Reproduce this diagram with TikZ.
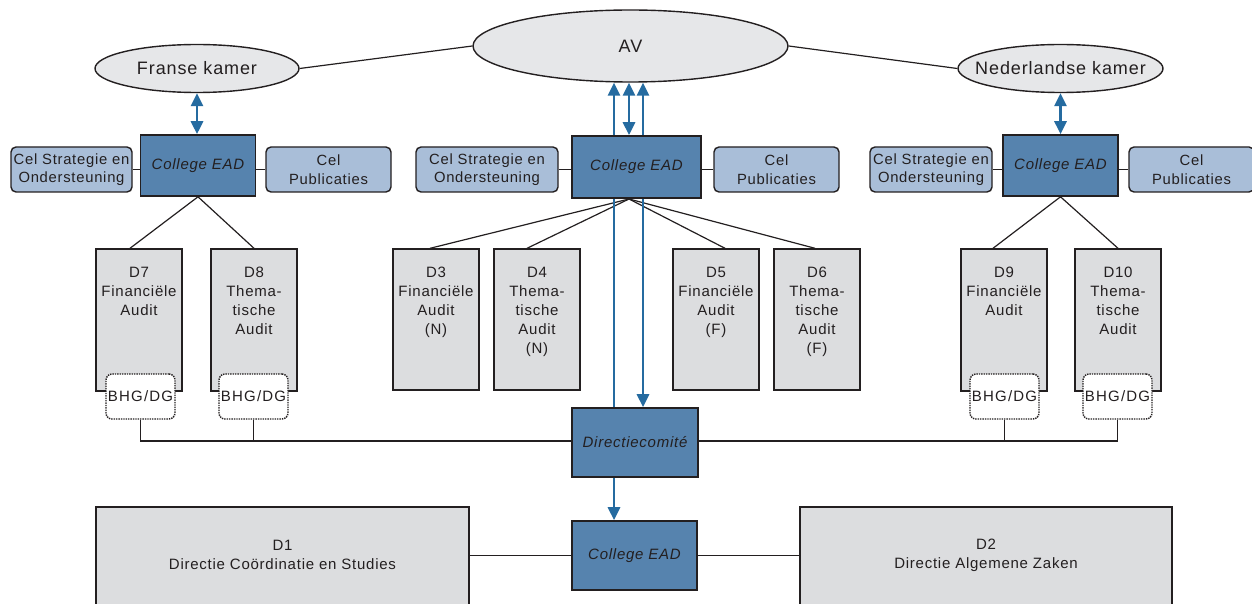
\documentclass[tikz,border=0pt]{standalone}
\usepackage{fontspec}
\setmainfont{Liberation Sans}[LetterSpace=5]
\usetikzlibrary{shapes.geometric,arrows.meta,calc}
\pgfdeclarelayer{bg}
\pgfsetlayers{bg,main}
\definecolor{darkb}{RGB}{86,131,174}
\definecolor{lightb}{RGB}{169,190,216}
\definecolor{greyc}{RGB}{220,221,223}
\definecolor{ellc}{RGB}{230,231,233}
\definecolor{arrowc}{RGB}{37,107,160}
\definecolor{linec}{RGB}{35,31,32}
\begin{document}
\begin{tikzpicture}[x=1pt,y=-1pt,
  ell/.style={ellipse, draw=linec, line width=1.4pt, fill=ellc, inner sep=0},
  elltext/.style={inner sep=0, text=linec, font=\fontsize{18}{21}\selectfont},
  coll/.style={rectangle, draw=linec, line width=1.6pt, fill=darkb, inner sep=0, text=linec, font=\fontsize{15}{17}\selectfont\itshape},
  cel/.style={rectangle, rounded corners=5pt, draw=linec, line width=1.4pt, fill=lightb, inner sep=0, align=center, text=linec, minimum height=45pt, font=\fontsize{14.8}{18.5}\selectfont},
  dbox/.style={rectangle, draw=linec, line width=1.4pt, fill=greyc, inner sep=0, minimum width=86pt},
  dtext/.style={anchor=north, align=center, inner sep=0, text=linec, font=\fontsize{15}{19}\selectfont},
  bhg/.style={rectangle, rounded corners=6pt, draw=linec, densely dotted, line width=1.4pt, fill=white, minimum width=69pt, minimum height=45pt, inner sep=0, text=linec, font=\fontsize{15}{17}\selectfont\addfontfeature{LetterSpace=8}},
  conn/.style={draw=linec, line width=1.2pt},
  barr/.style={draw=arrowc, line width=2.8pt, -{Triangle[width=12pt,length=13pt]}},
  barrd/.style={draw=arrowc, line width=2.8pt, {Triangle[width=12pt,length=13pt]}-{Triangle[width=12pt,length=13pt]}}
]
\useasboundingbox (0,0) rectangle (1252,604);

% ellipses
\node[ell, minimum width=315pt, minimum height=72pt] (AV) at (630.5,46) {};
\node[elltext] (AVt) at (AV.center) {AV};
\node[ell, minimum width=204pt, minimum height=48pt] (FR) at (197,68.5) {};
\node[elltext] (FRt) at (FR.center) {Franse kamer};
\node[ell, minimum width=205pt, minimum height=48pt] (NL) at (1060.5,68.5) {};
\node[elltext] (NLt) at (NL.center) {Nederlandse kamer};

% colleges
\node[coll, minimum width=115pt, minimum height=61pt] (CL) at (198,165.5) {College EAD};
\node[coll, minimum width=129pt, minimum height=62pt] (CM) at (636.5,167) {College EAD};
\node[coll, minimum width=115pt, minimum height=61pt] (CR) at (1060.5,165.5) {College EAD};

% cel boxes
\node[cel, minimum width=121pt] (SL) at (71.5,169.5) {Cel Strategie en\\Ondersteuning};
\node[cel, minimum width=125pt] (PL) at (328.5,169.5) {Cel\\Publicaties};
\node[cel, minimum width=142pt] (SM) at (487,169.5) {Cel Strategie en\\Ondersteuning};
\node[cel, minimum width=125pt] (PM) at (776.5,169.5) {Cel\\Publicaties};
\node[cel, minimum width=122pt] (SR) at (931,169.5) {Cel Strategie en\\Ondersteuning};
\node[cel, minimum width=125pt] (PR) at (1191.5,169.5) {Cel\\Publicaties};

% D boxes
\node[dbox, minimum height=142pt] (D7) at (139,320) {};
\node[dbox, minimum height=142pt] (D8) at (254,320) {};
\node[dbox, minimum height=142pt] (D9) at (1004,320) {};
\node[dbox, minimum height=142pt] (D10) at (1118,320) {};
\node[dbox, minimum height=141pt] (D3) at (436,319.5) {};
\node[dbox, minimum height=141pt] (D4) at (537,319.5) {};
\node[dbox, minimum height=141pt] (D5) at (716,319.5) {};
\node[dbox, minimum height=141pt] (D6) at (817,319.5) {};

\node[dtext] (T7) at (139,267) {D7\\Financiële\\Audit};
\node[dtext] (T8) at (254,267) {D8\\Thema-\\tische\\Audit};
\node[dtext] (T9) at (1004,267) {D9\\Financiële\\Audit};
\node[dtext] (T10) at (1118,267) {D10\\Thema-\\tische\\Audit};
\node[dtext] (T3) at (436,267) {D3\\Financiële\\Audit\\(N)};
\node[dtext] (T4) at (537,267) {D4\\Thema-\\tische\\Audit\\(N)};
\node[dtext] (T5) at (716,267) {D5\\Financiële\\Audit\\(F)};
\node[dtext] (T6) at (817,267) {D6\\Thema-\\tische\\Audit\\(F)};

% BHG/DG
\node[bhg] (B7) at (140.5,396.5) {BHG/DG};
\node[bhg] (B8) at (253.5,396.5) {BHG/DG};
\node[bhg] (B9) at (1004.5,396.5) {BHG/DG};
\node[bhg] (B10) at (1117.5,396.5) {BHG/DG};

% directiecomite and bottom
\node[coll, minimum width=126pt, minimum height=69pt] (DC) at (635,442.5) {Directiecomité};
\node[coll, minimum width=125pt, minimum height=69pt] (CB) at (634.5,555.5) {College EAD};
\node[dbox, minimum width=373pt, minimum height=103pt] (D1) at (282.5,558.5) {};
\node[dbox, minimum width=372pt, minimum height=103pt] (D2) at (986,558.5) {};
\node[dtext, anchor=center] (T1) at (282.5,555) {D1\\Directie Coördinatie en Studies};
\node[dtext, anchor=center] (T2) at (986,555) {D2\\Directie Algemene Zaken};

% helper coordinates
\coordinate (xa) at (614,0);
\coordinate (xb) at (629,0);
\coordinate (xc) at (643,0);
\coordinate (yh) at (0,441);
\coordinate (apexM) at (629,199);

\begin{pgfonlayer}{bg}
  % ellipse links
  \draw[conn] (AV.west) -- (FR.east);
  \draw[conn] (AV.east) -- (NL.west);
  % cel links
  \draw[conn] (SL.east) -- (SL.east -| CL.west);
  \draw[conn] (PL.west) -- (PL.west -| CL.east);
  \draw[conn] (SM.east) -- (SM.east -| CM.west);
  \draw[conn] (PM.west) -- (PM.west -| CM.east);
  \draw[conn] (SR.east) -- (SR.east -| CR.west);
  \draw[conn] (PR.west) -- (PR.west -| CR.east);
  % fans
  \draw[conn] ($(D7.north)+(-9,0)$) -- (CL.south) -- (D8.north);
  \draw[conn] ($(D9.north)+(-11,0)$) -- (CR.south) -- (D10.north);
  \draw[conn] ($(D3.north)+(-6,0)$) -- (apexM) -- ($(D6.north)+(-2,0)$);
  \draw[conn] ($(D4.north)+(-10,0)$) -- (apexM) -- ($(D5.north)+(9,0)$);
  % BHG to directiecomite
  \draw[conn] (B7.south) -- (B7.south |- yh) -- (B10.south |- yh) -- (B10.south);
  \draw[conn] (B8.south) -- (B8.south |- yh);
  \draw[conn] (B9.south) -- (B9.south |- yh);
  % bottom
  \draw[conn] (CB.west -| D1.east) -- (CB.west);
  \draw[conn] (CB.east) -- (CB.east -| D2.west);
  % blue arrows
  \draw[barrd] (FR.south) -- (FR.south |- CL.north);
  \draw[barrd] (NL.south) -- (NL.south |- CR.north);
  \draw[barr] (DC.north -| xa) -- (AV.south -| xa);
  \draw[barrd] (AV.south -| xb) -- (CM.north -| xb);
  \draw[barr] (CM.north -| xc) -- (AV.south -| xc);
  \draw[barr] (CM.south -| xc) -- (DC.north -| xc);
  \draw[barr] (DC.south -| xa) -- (CB.north -| xa);
\end{pgfonlayer}
\end{tikzpicture}
\end{document}
